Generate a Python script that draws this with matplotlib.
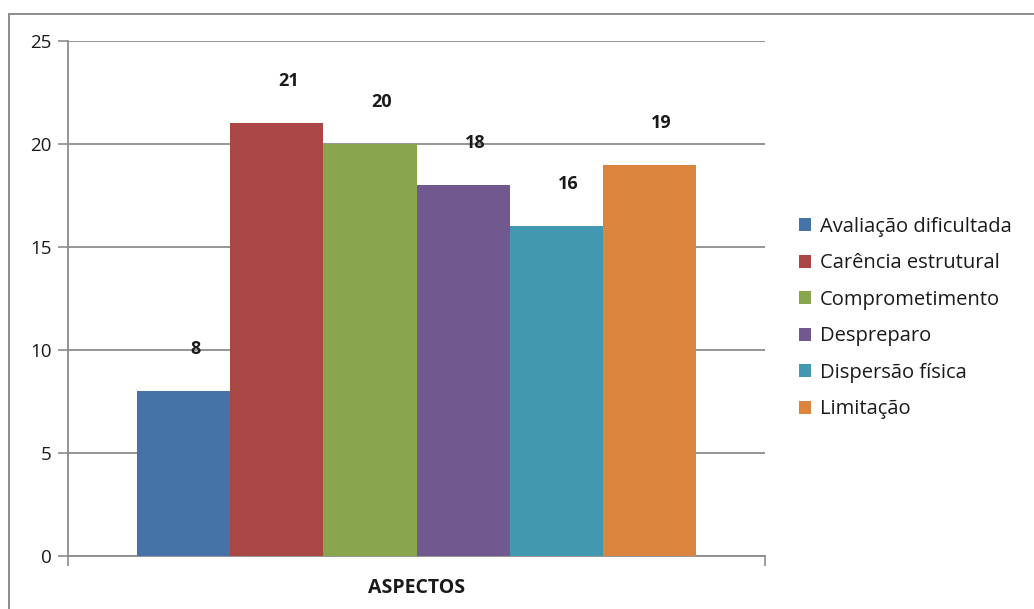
"""Bar chart of ASPECTOS counts, Excel-style clustered columns."""

import matplotlib

matplotlib.use("Agg")
import matplotlib.pyplot as plt
from matplotlib.patches import Rectangle

categories = ["Avaliação dificultada", "Carência estrutural", "Comprometimento",
              "Despreparo", "Dispersão física", "Limitação"]
values = [8, 21, 20, 18, 16, 19]
group_label = "ASPECTOS"
y_ticks = [0, 5, 10, 15, 20, 25]

colors = ["#4572A7", "#AA4643", "#89A54E", "#71588F", "#4198AF", "#DB843D"]
grid = "#8c8c8c"
ink = "#1a1a1a"

plt.rcParams["font.family"] = ["Open Sans", "DejaVu Sans"]

W, H = 1034, 609
fig = plt.figure(figsize=(W / 100, H / 100), dpi=100)
fig.patch.set_facecolor("white")

# outer chart frame (runs off the right and bottom edges)
fig.patches.append(Rectangle((9 / W, -0.1), 1.2, 1 - 14 / H + 0.1, transform=fig.transFigure,
                             fill=False, edgecolor=grid, linewidth=1.4))

ax = fig.add_axes([68 / W, 1 - 556 / H, (765 - 68) / W, (556 - 41) / H])
ax.set_xlim(-0.5, 0.5)
ax.set_ylim(0, 25)

width = 0.1336
n = len(values)
for i, (name, v, c) in enumerate(zip(categories, values, colors)):
    x = (i - (n - 1) / 2) * width
    ax.bar(x, v, width=width, color=c, label=name, zorder=3)
    ax.annotate(str(v), (x, v), xytext=(12, 42), textcoords="offset pixels",
                ha="center", va="center", fontsize=13, fontweight="bold", color=ink)

ax.set_yticks(y_ticks)
ax.yaxis.grid(True, color=grid, linewidth=1.3, zorder=0)
ax.tick_params(axis="y", direction="out", length=7, width=1.2, color=grid, pad=5,
               labelsize=13.5, labelcolor=ink)

ax.set_xticks([0])
ax.set_xticklabels([group_label], fontsize=14, fontweight="bold", color=ink)
ax.tick_params(axis="x", which="major", length=0, pad=16)
ax.set_xticks([-0.5, 0.5], minor=True)
ax.tick_params(axis="x", which="minor", direction="out", length=7, width=1.2, color=grid)

for s in ("top", "right"):
    ax.spines[s].set_visible(False)
for s in ("left", "bottom"):
    ax.spines[s].set_color(grid)
    ax.spines[s].set_linewidth(1.3)

leg = fig.legend(loc="center left", bbox_to_anchor=(799 / W, 1 - 318 / H), frameon=False,
                 fontsize=14.5, handlelength=0.62, handleheight=0.62, handletextpad=0.4,
                 labelspacing=0.82, borderaxespad=0, borderpad=0)
for t in leg.get_texts():
    t.set_color(ink)

fig.savefig("out.png", dpi=100)
